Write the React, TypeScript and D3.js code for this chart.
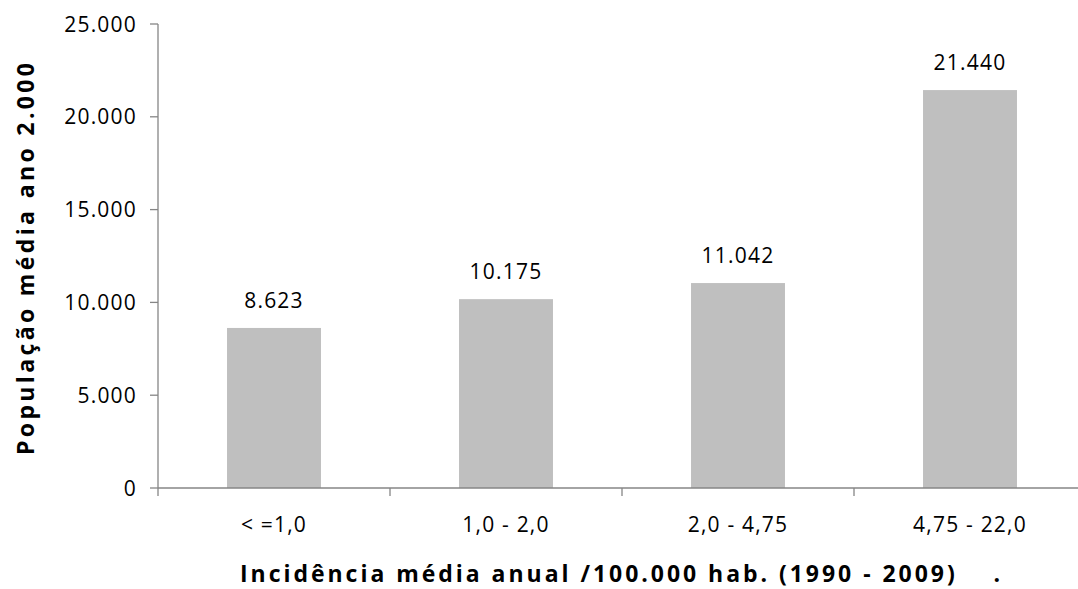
import React from "react";
import * as d3 from "d3";

const categories = ["< =1,0", "1,0 - 2,0", "2,0 - 4,75", "4,75 - 22,0"];
const values = [8623, 10175, 11042, 21440];
const yTicks = [0, 5000, 10000, 15000, 20000, 25000];

const W = 1078;
const H = 589;
const FONT = "'Open Sans', Lato, sans-serif";
const AXIS = "#868686";
const LABEL_SIZE = 21;
const LABEL_SPACING = 1.2;

const fmt = (v: number) =>
  v === 0 ? "0" : d3.format(",")(v).replace(/,/g, ".");

export default function App() {
  const x = d3
    .scaleBand<string>()
    .domain(categories)
    .range([158, 1086])
    .paddingInner(0.595)
    .paddingOuter(0.2975);
  const y = d3.scaleLinear().domain([0, 25000]).range([488, 24]);
  const step = x.step();
  const bounds = categories.map((_, i) => 158 + i * step);

  return (
    <svg
      width={W}
      height={H}
      style={{ position: "fixed", left: 0, top: 0, background: "#fff" }}
      fontFamily={FONT}
    >
      {/* bars */}
      {categories.map((c, i) => (
        <rect
          key={c}
          x={x(c)}
          y={y(values[i])}
          width={x.bandwidth()}
          height={y(0) - y(values[i])}
          fill="#bfbfbf"
        />
      ))}

      {/* value labels */}
      {categories.map((c, i) => (
        <text
          key={"v" + c}
          x={(x(c) as number) + x.bandwidth() / 2}
          y={y(values[i]) - 20}
          textAnchor="middle"
          fontSize={LABEL_SIZE}
          letterSpacing={LABEL_SPACING}
          fill="#000"
        >
          {fmt(values[i])}
        </text>
      ))}

      {/* y axis */}
      <line x1={158} x2={158} y1={y(25000)} y2={496} stroke={AXIS} strokeWidth={1.3} />
      {yTicks.map((t) => (
        <g key={t}>
          <line x1={150} x2={158} y1={y(t)} y2={y(t)} stroke={AXIS} strokeWidth={1.3} />
          <text
            x={137}
            y={y(t)}
            dy="0.36em"
            textAnchor="end"
            fontSize={LABEL_SIZE}
            letterSpacing={LABEL_SPACING}
            fill="#000"
          >
            {fmt(t)}
          </text>
        </g>
      ))}

      {/* x axis */}
      <line x1={158} x2={W} y1={y(0)} y2={y(0)} stroke={AXIS} strokeWidth={1.3} />
      {bounds.slice(1).map((b) => (
        <line key={b} x1={b} x2={b} y1={y(0)} y2={496} stroke={AXIS} strokeWidth={1.3} />
      ))}
      {categories.map((c) => (
        <text
          key={"c" + c}
          x={(x(c) as number) + x.bandwidth() / 2}
          y={532}
          textAnchor="middle"
          fontSize={LABEL_SIZE}
          letterSpacing={LABEL_SPACING}
          fill="#000"
          style={{ whiteSpace: "pre" }}
        >
          {c}
        </text>
      ))}

      {/* axis titles */}
      <text
        x={240}
        y={582}
        fontSize={23}
        fontWeight="bold"
        fill="#000"
        textLength={760}
        lengthAdjust="spacing"
        style={{ whiteSpace: "pre" }}
      >
        {"Incidência média anual /100.000 hab. (1990 - 2009)    ."}
      </text>
      <text
        transform="translate(34,259) rotate(-90)"
        textAnchor="middle"
        fontSize={23}
        fontWeight="bold"
        fill="#000"
        textLength={392}
        lengthAdjust="spacing"
      >
        População média ano 2.000
      </text>
    </svg>
  );
}
